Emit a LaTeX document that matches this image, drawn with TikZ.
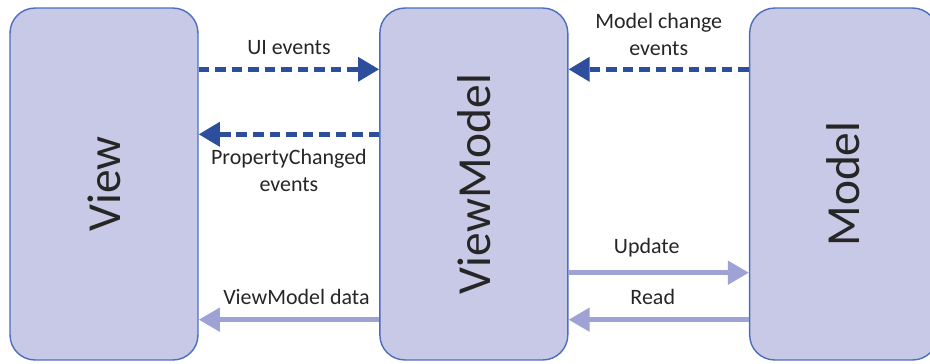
\documentclass[tikz,border=0pt]{standalone}
\usepackage{fontspec}
\setmainfont{Carlito}
\usetikzlibrary{arrows.meta,positioning}

\definecolor{boxfill}{RGB}{200,201,230}
\definecolor{boxline}{RGB}{76,110,190}
\definecolor{evblue}{RGB}{44,78,156}
\definecolor{datalav}{RGB}{158,162,212}

\begin{document}
\begin{tikzpicture}[x=0.02cm,y=-0.02cm,node distance=3.61cm,
  font=\fontsize{12.5}{15.3}\selectfont,text=black!85]
  \tikzstyle{layer}=[draw=boxline,fill=boxfill,line width=0.8pt,rounded corners=0.5cm,
    minimum width=3.76cm,minimum height=7.04cm,font=\fontsize{27}{32}\selectfont]
  \tikzstyle{event}=[draw=evblue,line width=2.5pt,dash pattern=on 6pt off 3.4pt,
    -{Triangle[length=12pt,width=13.5pt]}]
  \tikzstyle{data}=[draw=datalav,line width=2.8pt,-{Triangle[length=12pt,width=13pt]}]

  \clip (0,0) rectangle (930,363);

  \node[layer]                 (view)  at (104,184) {\rotatebox{90}{View}};
  \node[layer,right=of view]   (vm)                 {\rotatebox{90}{ViewModel}};
  \node[layer,right=of vm]     (model)              {\rotatebox{90}{Model}};

  % events
  \draw[event] ([yshift=-1.24cm]view.north east) -- node[above=4pt] {UI events}
    ([yshift=-1.24cm]vm.north west);
  \draw[event] ([yshift=-2.54cm]vm.north west) -- node[below=4pt,align=center] {PropertyChanged\\events}
    ([yshift=-2.54cm]view.north east);
  \draw[event] ([yshift=-1.24cm]model.north west) -- node[above=3pt,align=center] {Model change\\events}
    ([yshift=-1.24cm]vm.north east);

  % data
  \draw[data] ([yshift=1.76cm]vm.south east) -- node[above=4pt,xshift=-0.24cm] {Update}
    ([yshift=1.76cm]model.south west);
  \draw[data] ([yshift=0.82cm]model.south west) -- node[above=4pt,xshift=-0.12cm] {Read}
    ([yshift=0.82cm]vm.south east);
  \draw[data] ([yshift=0.82cm]vm.south west) -- node[above=4pt,xshift=0.15cm] {ViewModel data}
    ([yshift=0.82cm]view.south east);
\end{tikzpicture}
\end{document}
